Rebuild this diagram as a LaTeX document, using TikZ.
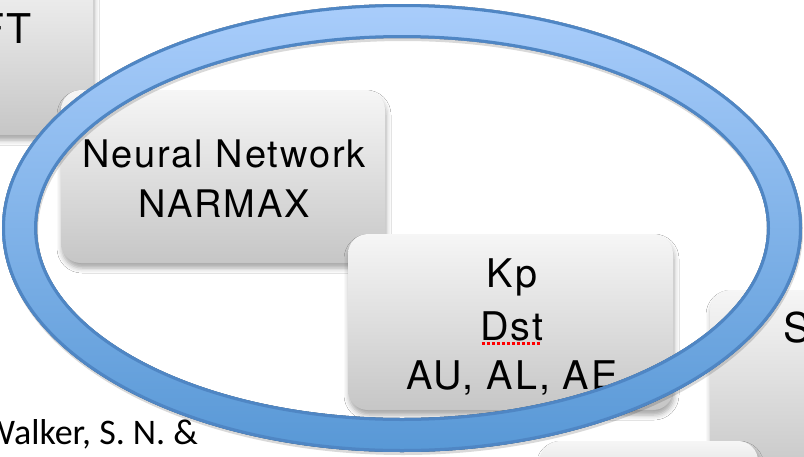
\documentclass[tikz,border=0pt]{standalone}
\usepackage{fontspec}
\setmainfont{TeX Gyre Heros}[LetterSpace=5]
\newfontfamily\carl{Carlito}
\usetikzlibrary{shadows.blur}
\definecolor{ringtop}{HTML}{A9CDFB}
\definecolor{ringbot}{HTML}{5898D6}
\definecolor{ringline}{HTML}{4F86C4}
\definecolor{boxtop}{HTML}{F6F6F6}
\definecolor{boxbot}{HTML}{C6C6C6}
\begin{document}
\begin{tikzpicture}[x=1pt,y=-1pt,
  box/.style={rounded corners=20pt, top color=boxtop, bottom color=boxbot, draw=none,
    inner sep=0pt, outer sep=0pt,
    blur shadow={shadow xshift=1pt, shadow yshift=-5pt, shadow blur radius=5pt, shadow opacity=35}},
  lbl/.style={anchor=base, inner sep=0pt, outer sep=0pt, text=black},
]
\useasboundingbox (0,0) rectangle (804,456);
\clip (0,0) rectangle (804,456);
\fill[white] (0,0) rectangle (804,456);
% boxes
\node[box, minimum width=123pt, minimum height=175pt] (tl) at (31.5,47.5) {};
\node[lbl, anchor=base east, font=\fontsize{41}{48}\selectfont] (ft) at (32,43) {FT};
\node[box, minimum width=324pt, minimum height=173pt] (nn) at (223,176.5) {};
\node[lbl, font=\fontsize{38}{44}\selectfont] (nn1) at (224,167) {Neural Network};
\node[lbl, font=\fontsize{38}{44}\selectfont] (nn2) at (224,217) {NARMAX};
\node[box, minimum width=325pt, minimum height=176pt] (kp) at (510.5,322) {};
\node[lbl, font=\fontsize{39.5}{47}\selectfont] (kp1) at (512,287) {Kp};
\node[lbl, font=\fontsize{39.5}{47}\selectfont] (kp2) at (512,340) {Dst};
\node[lbl, font=\fontsize{39.5}{47}\selectfont] (kp3) at (512,389) {AU, AL, AE};
\draw[red, line width=3pt, dash pattern=on 3pt off 2pt]
  ([yshift=-3.5pt,xshift=1pt]kp2.base west) -- ([yshift=-3.5pt,xshift=-3pt]kp2.base east);
\node[box, minimum width=140pt, minimum height=190pt] (sb) at (780,385) {};
\node[lbl, anchor=base west, font=\fontsize{41}{48}\selectfont] (s1) at (783,342) {S};
\node[box, minimum width=218pt, minimum height=79pt] (bb) at (649,480.5) {};
% citation
\node[lbl, anchor=base east, font=\carl\fontsize{36}{44}\selectfont] (cite) at (198,444) {Walker, S. N. \&};
% ring
\fill[black, opacity=0.15, even odd rule]
  (403,231) ellipse [x radius=400pt, y radius=224pt]
  (403,231) ellipse [x radius=365pt, y radius=190pt];
\fill[top color=ringtop, bottom color=ringbot, even odd rule]
  (402,228) ellipse [x radius=400pt, y radius=224pt]
  (402,228) ellipse [x radius=365pt, y radius=190pt];
\draw[ringline, line width=3pt] (402,228) ellipse [x radius=398.5pt, y radius=222.5pt];
\draw[ringline, line width=3pt] (402,228) ellipse [x radius=366.5pt, y radius=191.5pt];
\end{tikzpicture}
\end{document}
